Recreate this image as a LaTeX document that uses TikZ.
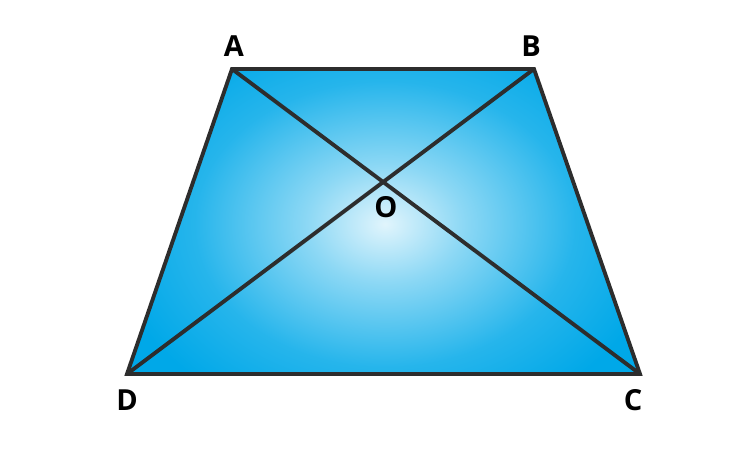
\documentclass[tikz,border=0pt]{standalone}
\usepackage{fontspec}
\setsansfont{Open Sans}
\definecolor{edgeblue}{RGB}{0,168,232}
\definecolor{lineg}{RGB}{45,45,45}
\pgfdeclareradialshading{trapglow}{\pgfpointorigin}{color(0bp)=(edgeblue!12!white); color(7bp)=(edgeblue!45!white); color(17bp)=(edgeblue!85!white); color(25bp)=(edgeblue); color(50bp)=(edgeblue)}
\tikzset{
	side/.style={line width=2.2pt, lineg, line join=miter},
	vlabel/.style={font=\sffamily\bfseries\fontsize{16.5}{19}\selectfont, inner sep=0pt}
}
\begin{document}
\begin{tikzpicture}
		\useasboundingbox (0,0) rectangle (15,8.98);
		\coordinate (A) at (4.64,7.6);
		\coordinate (B) at (10.68,7.6);
		\coordinate (C) at (12.8,1.5);
		\coordinate (D) at (2.54,1.5);
		\coordinate (O) at (intersection of A--C and B--D);
		% gradient body
		\fill[edgeblue] (A) -- (B) -- (C) -- (D) -- cycle;
		\begin{scope}
			\clip (A) -- (B) -- (C) -- (D) -- cycle;
			\shade[shading=trapglow] (7.7,4.5) ellipse (5.6 and 4.2);
		\end{scope}
		\draw[side] (A) -- (B) -- (C) -- (D) -- cycle;
		\draw[side] (A) -- (C);
		\draw[side] (B) -- (D);
		\node[vlabel] (labA) at (4.68,8.06) {A};
		\node[vlabel] (labB) at (10.62,8.06) {B};
		\node[vlabel] (labC) at (12.66,0.98) {C};
		\node[vlabel] (labD) at (2.54,0.98) {D};
		\node[vlabel] (labO) at (7.72,4.84) {O};
	\end{tikzpicture}
\end{document}
